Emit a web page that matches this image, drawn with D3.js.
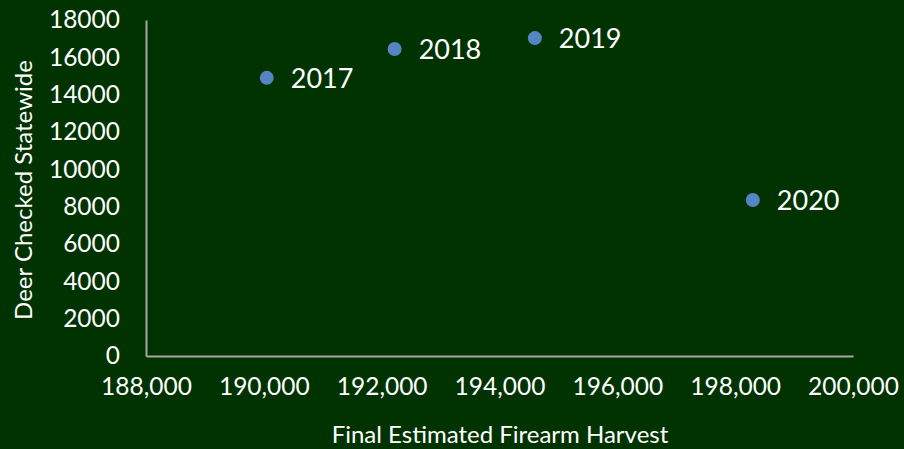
<!DOCTYPE html>
<html><head><meta charset="utf-8">
<script src="https://cdn.jsdelivr.net/npm/d3@7"></script>
<style>
html,body{margin:0;padding:0;background:#003300;}
svg{display:block;}
</style></head>
<body>
<script>
const years = ["2017","2018","2019","2020"];
const harvest = [190050, 192220, 194600, 198300];
const checked = [14900, 16450, 17030, 8360];
const xTicks = [188000,190000,192000,194000,196000,198000,200000];
const yTicks = [0,2000,4000,6000,8000,10000,12000,14000,16000,18000];

const W=904,H=449;
const svg=d3.select("body").append("svg").attr("width",W).attr("height",H);
svg.append("rect").attr("width",W).attr("height",H).attr("fill","#003300");
const x=d3.scaleLinear().domain([188000,200000]).range([146,853]);
const y=d3.scaleLinear().domain([0,18000]).range([356,20]);
const font="Lato, 'Open Sans', sans-serif";

const xa=svg.append("g").attr("transform","translate(0,356)")
 .call(d3.axisBottom(x).tickValues(xTicks).tickSize(0).tickPadding(22).tickFormat(d3.format(",")));
xa.select(".domain").attr("stroke","#a6a6a6").attr("stroke-width",2);
xa.selectAll("text").attr("fill","#fff").attr("font-family",font).attr("font-size",24.5);

const ya=svg.append("g").attr("transform","translate(146,0)")
 .call(d3.axisLeft(y).tickValues(yTicks).tickSize(0).tickPadding(26).tickFormat(d=>d));
ya.select(".domain").attr("stroke","#a6a6a6").attr("stroke-width",2);
ya.selectAll("text").attr("fill","#fff").attr("font-family",font).attr("font-size",24.5).attr("text-anchor","end");

svg.append("text").attr("x",500).attr("y",443).attr("text-anchor","middle")
 .attr("fill","#fff").attr("font-family",font).attr("font-size",24).text("Final Estimated Firearm Harvest");
svg.append("text").attr("transform","translate(32,190) rotate(-90)").attr("text-anchor","middle")
 .attr("fill","#fff").attr("font-family",font).attr("font-size",24).text("Deer Checked Statewide");

const data=years.map((yr,i)=>({yr,h:harvest[i],c:checked[i]}));
svg.selectAll("circle").data(data).enter().append("circle")
 .attr("cx",d=>x(d.h)).attr("cy",d=>y(d.c)).attr("r",7).attr("fill","#5585c5");
svg.selectAll("text.lbl").data(data).enter().append("text").attr("class","lbl")
 .attr("x",d=>x(d.h)+24).attr("y",d=>y(d.c)+10)
 .attr("fill","#fff").attr("font-family",font).attr("font-size",27).text(d=>d.yr);
</script>
</body></html>
